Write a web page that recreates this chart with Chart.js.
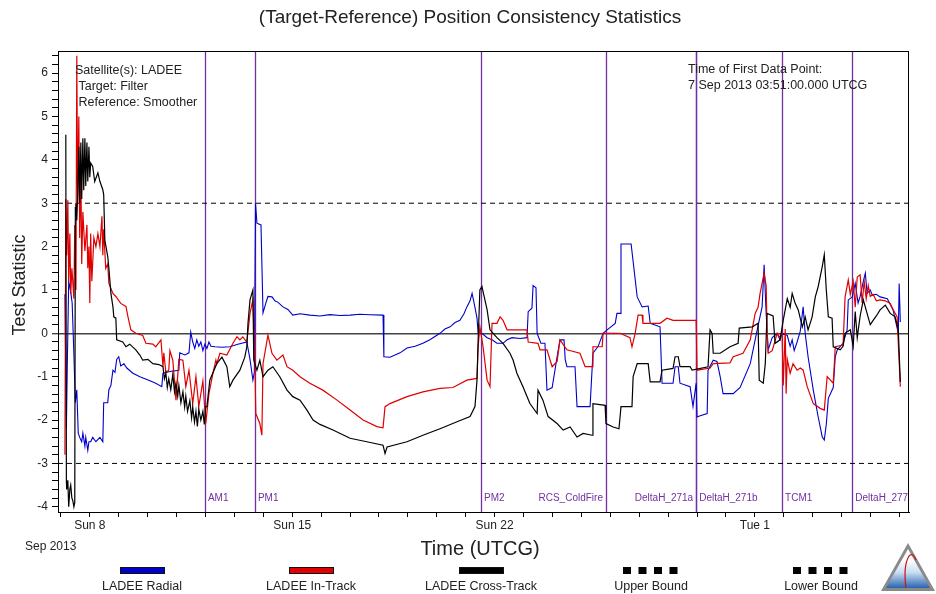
<!DOCTYPE html>
<html>
<head>
<meta charset="utf-8">
<script src="https://cdn.jsdelivr.net/npm/chart.js@4.4.0/dist/chart.umd.min.js"></script>
<style>
  html, body { margin: 0; padding: 0; background: #fff; }
  #wrap { position: relative; width: 936px; height: 594px; }
</style>
</head>
<body>
<div id="wrap"><canvas id="c" width="936" height="594"></canvas></div>
<script>
/* ---- data: time in days since 1 Sep 2013 00:00 UTCG, value = test statistic ---- */
const radial = [
  [6.14,0.9],[6.19,-2.2],[6.22,-0.8],[6.27,1.2],[6.34,0.95],[6.39,0.7],[6.45,-0.5],[6.50,-1.6],[6.55,-1.3],[6.60,-2.3],
  [6.65,-2.4],[6.72,-2.5],[6.76,-2.3],[6.83,-2.6],[6.86,-2.4],[6.93,-2.7],[6.97,-2.5],[7.03,-2.5],[7.10,-2.4],[7.21,-2.5],
  [7.35,-2.4],[7.45,-2.5],[7.48,-1.6],[7.62,-1.6],[7.66,-1.3],[7.73,-1.2],[7.80,-0.85],[7.87,-0.9],[7.93,-0.6],[8.00,-0.54],
  [8.07,-0.75],[8.18,-0.7],[8.28,-0.8],[8.49,-0.92],[8.73,-1.0],[9.04,-1.08],[9.28,-1.15],[9.49,-1.23],[9.53,-0.92],[9.77,-0.88],
  [10.08,-0.85],[10.11,-0.45],[10.29,-0.5],[10.43,-0.45],[10.49,0.03],[10.56,-0.2],[10.63,-0.35],[10.70,-0.15],[10.77,-0.3],[10.84,-0.2],
  [10.91,-0.4],[10.98,-0.25],[11.05,-0.35],[11.12,-0.2],[11.19,-0.3],[11.33,-0.31],[11.57,-0.32],[11.84,-0.31],[12.12,-0.25],[12.43,-0.2],
  [12.54,-0.6],[12.64,-1.08],[12.69,-0.9],[12.73,3.0],[12.78,2.54],[12.92,2.5],[12.99,0.47],[13.09,0.7],[13.16,0.85],[13.30,0.84],
  [13.40,0.75],[13.50,0.72],[13.68,0.61],[13.85,0.55],[14.02,0.42],[14.27,0.45],[14.61,0.42],[14.96,0.40],[15.30,0.43],[15.65,0.41],
  [16.00,0.42],[16.34,0.44],[16.69,0.43],[17.14,0.42],[17.17,-0.54],[17.38,-0.55],[17.73,-0.45],[17.97,-0.34],[18.25,-0.3],[18.52,-0.23],
  [18.76,-0.15],[19.11,0.0],[19.28,0.1],[19.46,0.15],[19.63,0.25],[19.80,0.3],[19.94,0.45],[20.04,0.61],[20.15,0.75],[20.22,0.92],
  [20.32,0.6],[20.39,0.35],[20.43,0.0],[20.56,0.0],[20.74,-0.1],[20.91,-0.15],[21.08,-0.23],[21.29,-0.23],[21.43,-0.15],[21.60,-0.1],
  [21.88,-0.12],[22.12,-0.1],[22.16,0.5],[22.29,0.58],[22.33,1.1],[22.43,1.05],[22.47,0.0],[22.60,-0.23],[22.74,-0.23],[22.81,-1.31],
  [22.99,-1.25],[23.16,-0.54],[23.26,-0.15],[23.40,-0.15],[23.44,-0.6],[23.50,-0.77],[23.78,-0.77],[23.85,-1.69],[24.30,-1.69],[24.40,-0.46],
  [24.58,-0.3],[24.75,0.0],[24.89,0.08],[25.17,0.23],[25.23,0.46],[25.34,0.46],[25.37,2.06],[25.72,2.06],[25.93,0.84],[26.10,0.61],
  [26.31,0.63],[26.38,0.23],[26.72,0.15],[26.79,-1.15],[27.17,-1.15],[27.24,-0.77],[27.35,-0.77],[27.41,-1.15],[27.76,-1.23],[27.86,-1.69],
  [27.97,-1.15],[28.00,-1.93],[28.11,-1.9],[28.35,-1.85],[28.38,-0.85],[28.56,-0.62],[28.69,-0.65],[28.80,-1.0],[28.90,-1.39],[29.25,-1.39],
  [29.49,-1.25],[29.84,-0.7],[30.08,0.08],[30.25,0.61],[30.32,1.58],[30.39,0.46],[30.46,-0.38],[30.60,-0.1],[30.77,0.0],[30.87,-0.15],
  [30.94,0.0],[31.12,-0.05],[31.22,-0.3],[31.29,-0.15],[31.36,-0.4],[31.46,-0.2],[31.57,0.05],[31.67,0.61],[31.74,0.0],[31.84,-0.54],
  [32.02,-1.31],[32.19,-1.93],[32.33,-2.39],[32.40,-2.46],[32.47,-2.1],[32.54,-1.5],[32.71,-1.25],[32.78,-0.54],[32.85,-0.38],[33.05,-0.23],
  [33.19,0.08],[33.23,0.77],[33.37,0.84],[33.47,1.15],[33.57,0.7],[33.64,0.85],[33.75,1.2],[33.82,1.39],[33.88,0.92],[33.99,1.0],
  [34.06,0.88],[34.20,0.9],[34.33,0.84],[34.58,0.8],[34.78,0.54],[34.96,0.0],[34.99,1.15],[35.03,0.26]
];

const inTrack = [
  [6.14,-2.8],[6.17,3.1],[6.20,1.8],[6.24,3.07],[6.27,1.2],[6.31,2.3],[6.34,0.9],[6.38,1.5],[6.45,0.8],[6.48,2.5],
  [6.52,1.0],[6.55,6.4],[6.58,3.0],[6.62,5.0],[6.65,2.2],[6.69,3.8],[6.72,1.6],[6.76,2.8],[6.83,1.9],[6.90,2.5],
  [6.93,1.5],[6.97,2.0],[7.00,0.7],[7.03,2.3],[7.07,1.2],[7.14,2.2],[7.21,2.0],[7.28,2.3],[7.35,2.0],[7.42,2.7],
  [7.45,1.8],[7.48,2.4],[7.55,1.5],[7.62,1.6],[7.66,1.15],[7.80,0.92],[7.90,0.85],[8.07,0.69],[8.25,0.62],[8.32,0.38],
  [8.42,0.08],[8.59,0.0],[8.83,-0.05],[8.94,-0.23],[9.18,-0.25],[9.28,-0.31],[9.46,-0.15],[9.53,-0.77],[9.56,-0.45],[9.63,-0.9],
  [9.73,-0.85],[9.77,-0.4],[9.87,-0.62],[9.98,-1.54],[10.08,-0.6],[10.22,-0.62],[10.32,-1.23],[10.43,-0.85],[10.56,-1.62],[10.67,-1.0],
  [10.77,-1.69],[10.91,-1.1],[11.01,-2.08],[11.12,-1.39],[11.26,-0.92],[11.36,-0.62],[11.39,-0.7],[11.50,-0.46],[11.74,-0.5],[11.95,-0.23],
  [12.09,-0.08],[12.19,-0.15],[12.29,-0.08],[12.43,-0.2],[12.54,0.46],[12.64,0.77],[12.71,-0.7],[12.74,-1.85],[12.88,-2.08],[12.95,-2.35],
  [12.99,-0.7],[13.16,-0.04],[13.30,-0.46],[13.47,-0.62],[13.68,-0.5],[13.82,-0.77],[14.02,-0.85],[14.27,-1.0],[14.61,-1.15],[15.06,-1.31],
  [15.55,-1.54],[16.00,-1.77],[16.45,-2.0],[16.93,-2.15],[17.14,-2.18],[17.21,-1.69],[17.38,-1.62],[17.97,-1.46],[18.52,-1.35],[19.11,-1.27],
  [19.56,-1.25],[20.04,-1.08],[20.39,-1.04],[20.43,-0.31],[20.49,0.15],[20.60,-0.31],[20.74,-1.08],[20.84,-1.23],[20.91,0.23],[21.08,0.23],
  [21.19,0.38],[21.29,0.3],[21.43,0.08],[22.12,0.08],[22.16,-0.2],[22.50,-0.23],[22.57,-0.38],[22.81,-0.38],[22.99,-0.77],[23.16,-0.65],
  [23.26,-0.15],[23.50,-0.38],[23.95,-0.46],[24.13,-0.77],[24.37,-0.77],[24.40,-0.31],[24.72,-0.31],[24.75,0.0],[25.34,0.0],[25.68,-0.1],
  [25.75,-0.31],[25.86,0.0],[25.96,0.42],[26.10,0.42],[26.13,0.23],[26.72,0.23],[26.96,0.35],[27.17,0.3],[27.97,0.3],[28.00,-0.85],
  [28.45,-0.8],[28.56,-0.7],[29.14,-0.68],[29.25,-0.54],[29.59,-0.46],[29.84,-0.15],[30.01,0.46],[30.11,0.6],[30.18,0.92],[30.32,1.39],
  [30.39,1.1],[30.42,0.08],[30.46,-0.46],[30.60,-0.4],[30.77,0.0],[30.87,-0.1],[30.94,0.05],[30.98,-1.2],[31.05,0.1],[31.08,-1.39],
  [31.12,-0.6],[31.22,-0.92],[31.32,-0.7],[31.46,-0.85],[31.57,-0.8],[31.67,-0.85],[31.81,-1.23],[32.02,-1.62],[32.26,-1.73],[32.40,-1.77],
  [32.50,-1.0],[32.71,-1.15],[32.78,-0.31],[33.05,-0.27],[33.12,0.84],[33.23,1.23],[33.30,0.9],[33.40,1.2],[33.47,0.6],[33.54,1.3],
  [33.64,1.35],[33.71,0.7],[33.78,1.2],[33.85,0.8],[33.92,1.1],[33.99,0.85],[34.09,0.9],[34.20,0.75],[34.33,0.77],[34.51,0.75],
  [34.68,0.69],[34.78,0.55],[34.92,0.38],[34.96,-0.23],[35.03,-1.23]
];

const crossTrack = [
  [6.17,4.58],[6.19,-3.4],[6.20,-3.6],[6.24,-3.39],[6.27,-4.0],[6.31,-3.6],[6.34,-3.5],[6.38,-3.8],[6.41,-3.85],[6.45,-4.0],
  [6.48,-3.9],[6.50,2.9],[6.52,3.0],[6.55,2.6],[6.58,3.2],[6.62,4.3],[6.65,3.0],[6.69,4.4],[6.72,3.1],[6.76,4.5],
  [6.79,3.3],[6.83,4.5],[6.86,3.4],[6.90,4.4],[6.93,3.5],[6.97,4.3],[7.00,3.6],[7.03,3.93],[7.10,3.85],[7.17,3.5],
  [7.28,3.7],[7.35,3.5],[7.45,3.31],[7.48,3.2],[7.52,2.15],[7.62,1.77],[7.66,1.5],[7.73,0.92],[7.80,0.61],[7.83,0.38],
  [7.90,0.35],[7.93,-0.15],[8.14,-0.2],[8.25,-0.31],[8.38,-0.25],[8.59,-0.38],[8.73,-0.5],[8.83,-0.62],[9.01,-0.6],[9.18,-0.7],
  [9.39,-0.72],[9.53,-0.77],[9.58,-1.05],[9.63,-0.92],[9.68,-1.25],[9.73,-1.05],[9.80,-1.3],[9.87,-0.95],[9.93,-1.35],[9.98,-1.15],
  [10.04,-1.45],[10.08,-1.2],[10.15,-1.6],[10.22,-1.35],[10.28,-1.7],[10.32,-1.45],[10.38,-1.8],[10.46,-1.55],[10.52,-1.95],[10.56,-1.7],
  [10.62,-2.05],[10.67,-1.8],[10.72,-2.15],[10.77,-1.75],[10.84,-2.0],[10.91,-1.8],[10.96,-2.1],[11.01,-1.69],[11.05,-1.69],[11.15,-1.08],
  [11.39,-0.7],[11.57,-0.55],[11.74,-0.77],[11.84,-1.23],[11.95,-1.08],[12.19,-0.85],[12.36,-0.55],[12.43,-0.31],[12.47,0.23],[12.54,0.77],
  [12.64,1.0],[12.67,-0.62],[12.78,-0.85],[12.88,-0.62],[12.99,-1.0],[13.16,-0.85],[13.33,-0.77],[13.57,-1.0],[13.82,-1.31],[14.02,-1.46],
  [14.27,-1.54],[14.51,-1.77],[14.72,-2.0],[14.96,-2.1],[15.41,-2.23],[16.00,-2.42],[16.58,-2.5],[17.14,-2.58],[17.21,-2.77],[17.28,-2.62],
  [17.97,-2.5],[18.52,-2.35],[19.11,-2.2],[19.70,-2.04],[20.15,-1.92],[20.32,-1.69],[20.39,-1.08],[20.43,-0.15],[20.49,1.0],[20.56,1.08],
  [20.74,0.54],[20.84,0.08],[21.08,-0.1],[21.29,-0.23],[21.53,-0.46],[21.64,-0.62],[21.77,-0.92],[21.98,-1.23],[22.22,-1.62],[22.47,-1.85],
  [22.50,-1.31],[22.67,-1.54],[22.85,-1.92],[23.16,-2.08],[23.37,-2.23],[23.61,-2.16],[23.85,-2.39],[24.06,-2.31],[24.37,-2.35],[24.40,-1.62],
  [24.82,-1.66],[24.85,-2.08],[25.10,-2.16],[25.30,-2.2],[25.37,-1.69],[25.75,-1.69],[25.79,-1.0],[25.93,-0.7],[26.31,-0.7],[26.38,-1.12],
  [26.72,-1.12],[26.79,-0.85],[27.17,-0.81],[27.24,-0.54],[27.35,-0.54],[27.41,-0.77],[27.76,-0.77],[27.83,-0.85],[28.38,-0.77],[28.45,0.08],
  [28.52,0.0],[28.56,-0.46],[28.80,-0.46],[29.14,-0.31],[29.42,-0.23],[29.46,0.12],[29.91,0.15],[30.11,0.23],[30.15,-1.08],[30.29,-1.15],
  [30.36,-0.7],[30.42,0.46],[30.63,0.4],[30.70,-0.23],[30.87,-0.15],[30.98,0.3],[31.12,0.8],[31.22,0.6],[31.29,0.92],[31.39,0.7],
  [31.50,0.54],[31.64,0.15],[31.74,0.38],[31.84,0.08],[31.98,0.38],[32.09,0.84],[32.19,1.08],[32.33,1.54],[32.40,1.81],[32.47,1.0],
  [32.54,0.38],[32.67,0.35],[32.71,-0.31],[32.95,-0.38],[33.05,-0.3],[33.12,0.0],[33.30,0.08],[33.40,-0.3],[33.47,0.5],[33.54,-0.1],
  [33.64,0.4],[33.75,0.77],[33.88,0.46],[33.99,0.2],[34.09,0.3],[34.20,0.4],[34.33,0.54],[34.51,0.65],[34.68,0.46],[34.85,0.38],
  [34.96,0.08],[35.03,-1.12]
];

const boundTimes = [5.9, 35.33];
const upperBound = [3, 3];
const lowerBound = [-3, -3];

const eventNames = ['AM1', 'PM1', 'PM2', 'RCS_ColdFire', 'DeltaH_271a', 'DeltaH_271b', 'TCM1', 'DeltaH_277'];
const eventTimes = [10.98, 12.71, 20.53, 24.85, 27.97, 27.97, 30.94, 33.37];

const xLabels = { 7: 'Sun 8', 14: 'Sun 15', 21: 'Sun 22', 30: 'Tue 1' };
const xTickDays = [];
for (let d = 6; d <= 35; d++) xTickDays.push(d);
const yTickVals = [];
for (let i = -20; i <= 32; i++) yTickVals.push(i / 5);

const seriesNames = ['LADEE Radial', 'LADEE In-Track', 'LADEE Cross-Track', 'Upper Bound', 'Lower Bound'];

const FONT = '"Liberation Sans", Arial, sans-serif';
const PURPLE = '#7030a0';
const BLUE = '#0000cc';
const RED = '#e00000';

const pts = arr => arr.map(p => ({ x: p[0], y: p[1] }));
const bound = vals => boundTimes.map((t, i) => ({ x: t, y: vals[i] }));

// event lines + labels, titles, notes, legend, logo
const decor = {
  id: 'decor',
  beforeDatasetsDraw(chart) {
    const { ctx, chartArea: a, scales: { x } } = chart;
    ctx.save();
    ctx.strokeStyle = PURPLE;
    ctx.lineWidth = 1.3;
    eventTimes.forEach(t => {
      const px = Math.round(x.getPixelForValue(t)) + 0.5;
      ctx.beginPath();
      ctx.moveTo(px, a.top);
      ctx.lineTo(px, a.bottom);
      ctx.stroke();
    });
    ctx.restore();
  },
  afterDraw(chart) {
    const { ctx, chartArea: a, scales: { x } } = chart;
    ctx.save();

    // frame
    ctx.strokeStyle = '#000';
    ctx.lineWidth = 1;
    ctx.strokeRect(a.left + 0.5, a.top + 0.5, a.right - a.left - 1, a.bottom - a.top);

    // event labels
    ctx.font = '10px ' + FONT;
    ctx.fillStyle = PURPLE;
    ctx.textBaseline = 'middle';
    const leftSide = ['RCS_ColdFire', 'DeltaH_271a'];
    eventNames.forEach((n, i) => {
      const px = x.getPixelForValue(eventTimes[i]);
      if (leftSide.includes(n)) { ctx.textAlign = 'right'; ctx.fillText(n, px - 3, 498); }
      else { ctx.textAlign = 'left'; ctx.fillText(n, px + 3, 498); }
    });

    // title
    ctx.fillStyle = '#222';
    ctx.textAlign = 'center';
    ctx.font = '19px ' + FONT;
    ctx.fillText('(Target-Reference) Position Consistency Statistics', 470, 18);

    // axis titles
    ctx.font = '20px ' + FONT;
    ctx.fillText('Time (UTCG)', 480, 549);
    ctx.save();
    ctx.translate(20, 285);
    ctx.rotate(-Math.PI / 2);
    ctx.font = '18px ' + FONT;
    ctx.fillText('Test Statistic', 0, 0);
    ctx.restore();
    ctx.font = '12px ' + FONT;
    ctx.textAlign = 'left';
    ctx.fillText('Sep 2013', 25, 547);

    // notes
    ctx.font = '12.5px ' + FONT;
    ctx.fillText('Satellite(s): LADEE', 75, 71);
    ctx.fillText(' Target: Filter', 75, 87);
    ctx.fillText(' Reference: Smoother', 75, 103);
    ctx.fillText('Time of First Data Point:', 688, 70);
    ctx.fillText('7 Sep 2013 03:51:00.000 UTCG', 688, 86);

    // legend
    const centers = [142, 311, 481, 651, 821];
    const fills = [BLUE, RED, '#000'];
    ctx.font = '12.5px ' + FONT;
    ctx.textAlign = 'center';
    seriesNames.forEach((n, i) => {
      const c = centers[i];
      if (i < 3) {
        ctx.fillStyle = fills[i];
        ctx.fillRect(c - 22, 567, 45, 7);
        ctx.strokeStyle = '#111';
        ctx.lineWidth = 1;
        ctx.strokeRect(c - 22 + 0.5, 567.5, 44, 6);
      } else {
        ctx.fillStyle = '#000';
        for (let k = 0; k < 4; k++) ctx.fillRect(c - 28 + k * 15.5, 567, 8, 7);
      }
      ctx.fillStyle = '#222';
      ctx.fillText(n, c, 587);
    });

    // logo
    ctx.beginPath();
    ctx.moveTo(908, 543); ctx.lineTo(935, 591); ctx.lineTo(881, 591); ctx.closePath();
    ctx.fillStyle = '#8a8a8a'; ctx.fill();
    ctx.beginPath();
    ctx.moveTo(908, 549); ctx.lineTo(930, 588); ctx.lineTo(886, 588); ctx.closePath();
    const g = ctx.createLinearGradient(0, 560, 0, 588);
    g.addColorStop(0, '#ffffff'); g.addColorStop(0.45, '#c8dcf0'); g.addColorStop(1, '#2a64b0');
    ctx.fillStyle = g; ctx.fill();
    ctx.beginPath();
    ctx.moveTo(906, 588); ctx.quadraticCurveTo(903, 566, 909, 556); ctx.quadraticCurveTo(913, 552, 916, 560);
    ctx.strokeStyle = '#d01010'; ctx.lineWidth = 1.2; ctx.stroke();

    ctx.restore();
  }
};

new Chart(document.getElementById('c'), {
  type: 'line',
  data: {
    datasets: [
      { label: seriesNames[0], data: pts(radial), borderColor: BLUE, borderWidth: 1.1, order: 3 },
      { label: seriesNames[1], data: pts(inTrack), borderColor: RED, borderWidth: 1.2, order: 2 },
      { label: seriesNames[2], data: pts(crossTrack), borderColor: '#000', borderWidth: 1.2, order: 1 },
      { label: seriesNames[3], data: bound(upperBound), borderColor: '#000', borderWidth: 1, borderDash: [5, 4], order: 4 },
      { label: seriesNames[4], data: bound(lowerBound), borderColor: '#000', borderWidth: 1, borderDash: [5, 4], order: 4 }
    ]
  },
  options: {
    responsive: false,
    animation: false,
    devicePixelRatio: 1,
    elements: { point: { radius: 0 }, line: { tension: 0, fill: false } },
    layout: { padding: { left: 0, top: 51, right: 27, bottom: 0 } },
    plugins: { legend: { display: false }, tooltip: { enabled: false }, title: { display: false } },
    scales: {
      x: {
        type: 'linear',
        min: 5.9,
        max: 35.33,
        afterFit: s => { s.height = 82; },
        afterBuildTicks: s => { s.ticks = xTickDays.map(v => ({ value: v })); },
        grid: { drawOnChartArea: false, tickLength: 5, tickColor: '#000', tickWidth: 1 },
        border: { color: '#000', width: 1 },
        ticks: {
          autoSkip: false, maxRotation: 0, padding: 1,
          color: '#222', font: { family: FONT, size: 12 },
          callback: v => xLabels[v] || ''
        }
      },
      y: {
        min: -4.12,
        max: 6.51,
        afterFit: s => { s.width = 58; },
        afterBuildTicks: s => { s.ticks = yTickVals.map(v => ({ value: v })); },
        grid: {
          tickLength: 6, tickColor: '#000', tickWidth: 1,
          color: c => (c.tick && Math.abs(c.tick.value) < 1e-9 ? '#444' : 'rgba(0,0,0,0)'),
          lineWidth: c => (c.tick && Math.abs(c.tick.value) < 1e-9 ? 1.5 : 1)
        },
        border: { color: '#000', width: 1 },
        ticks: {
          autoSkip: false, padding: 4,
          color: '#222', font: { family: FONT, size: 12 },
          callback: v => (Math.abs(v - Math.round(v)) < 1e-9 ? String(Math.round(v)) : '')
        }
      }
    }
  },
  plugins: [decor]
});
</script>
</body>
</html>
